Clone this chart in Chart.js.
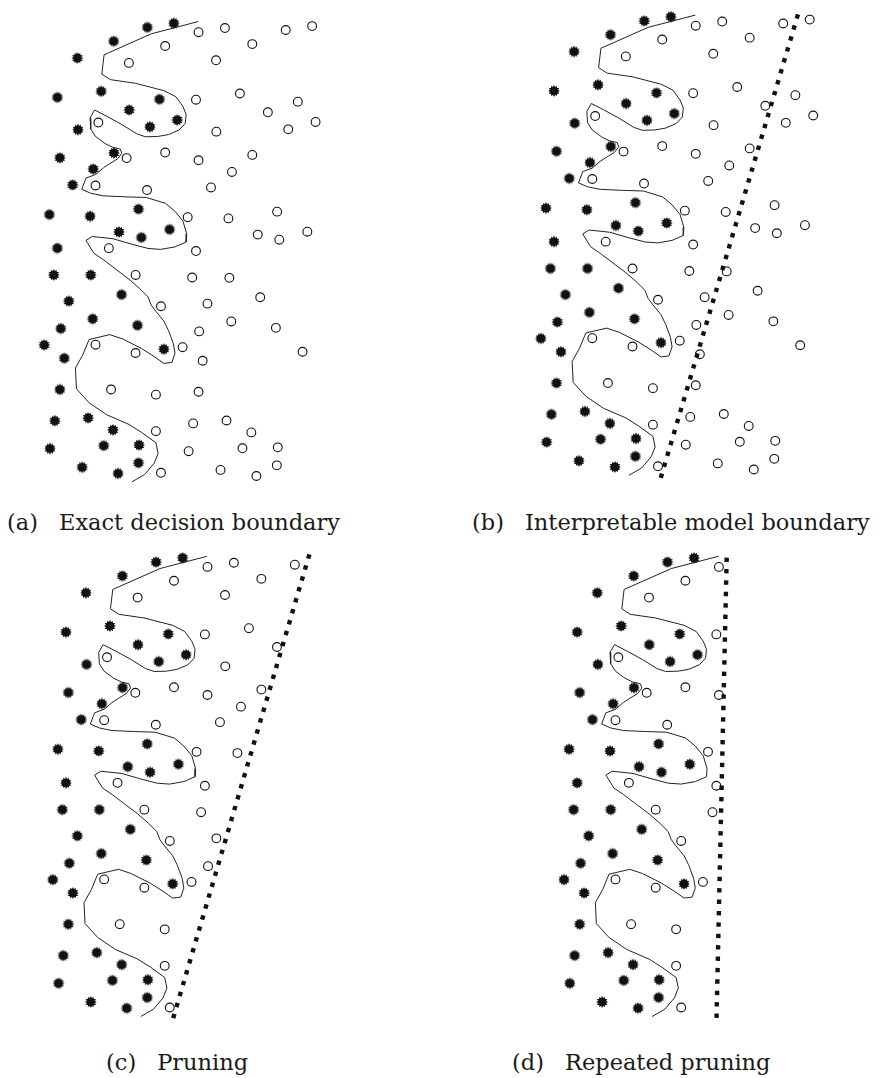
<!DOCTYPE html>
<html lang="en">
<head>
<meta charset="UTF-8">
<title>Decision boundary and pruning</title>
<script src="https://cdn.jsdelivr.net/npm/chart.js"></script>
<style>
  body { margin:0; background:#fff; width:880px; height:1078px; position:relative; overflow:hidden; }
  canvas { position:absolute; }
  .cap { position:absolute; font-family:"DejaVu Serif", serif; font-size:22.5px; line-height:26px; color:#1a1a1a; white-space:nowrap; }
  .cap span + span { margin-left:21px; }
</style>
</head>
<body>
<div class="cap" style="left:7px;top:509px"><span>(a)</span><span>Exact decision boundary</span></div>
<div class="cap" style="left:472px;top:509px"><span>(b)</span><span>Interpretable model boundary</span></div>
<div class="cap" style="left:106px;top:1049px"><span>(c)</span><span>Pruning</span></div>
<div class="cap" style="left:512px;top:1049px"><span>(d)</span><span>Repeated pruning</span></div>
<script>
// filled "star" points (class 1), in panel (a) coordinates
const stars = [
  [146,20],[173.7,15.7],[110.7,34.3],[72.7,51.7],[97.7,86],[51.7,92.3],[158.7,94.3],[127,105.3],
  [177.3,115.7],[148.7,122.7],[73.3,125.7],[111,149.7],[54.3,154.7],[89.3,166.3],[67.7,182.7],
  [43.3,213.3],[86,215],[136.7,207.7],[169.3,228.7],[116.3,231.3],[139.7,237],[51.7,248],
  [48,275.7],[86.7,275.7],[119,296],[63.7,302.7],[88.7,321],[135.7,327.7],[55.3,331],[38,348],
  [59,361.7],[163.3,352.3],[54.3,394],[49,426.3],[84,423.3],[110,435.7],[44,455],[100.3,452],
  [137.3,451.3],[136.7,469.7],[77.7,474.3],[115.3,480.7]
];

// open circles (class 0)
const circles = [
  [199.7,25],[227.3,20.7],[291,22.7],[318.7,18.7],[256,37.3],[164.7,39.3],[126.7,56.7],[218,54],
  [197,94.7],[243,88.3],[303.7,96.7],[272.3,107.7],[322.3,117.7],[293.7,125.3],[94.7,118.3],[218.3,127.7],
  [164.7,149.3],[124.3,155],[199.7,157.3],[256,151.7],[234.7,169.3],[91.7,183.3],[145.7,188],[212.7,185.3],
  [188.3,216],[231,217.3],[282,210.3],[261.7,234],[284.3,239.3],[313.7,231],[105.7,248],[197,251],
  [133.7,275.7],[193,278.3],[232,278.7],[160.3,308],[209,305.3],[264.3,298.7],[234,323.7],[280.7,330.3],
  [200.3,334],[91.7,347.7],[133.7,356.3],[183,350.3],[204,364.3],[308.7,355],[108,394],[155,399.3],
  [199.7,396.3],[194,429],[229,426],[255,438.3],[155,437],[189.3,457.7],[245.7,454.7],[282.7,453.7],
  [281.7,472.3],[222.7,477],[260.3,483.3],[160.3,480]
];
// how long each circle survives: 0 = (a),(b) only, 1 = also (c), 2 = also (d)
const circleStage = [
  2,1,1,0,1,2,2,1, 2,1,0,1,0,0,2,1, 2,2,2,1,1,2,2,1, 2,1,0,0,0,0,2,2,
  2,2,0,2,1,0,0,0, 1,2,2,2,0,0,2,2, 0,0,0,0,2,0,0,0, 0,0,0,2
];

// exact decision boundary
const boundary = [
  [199.3,14],[150,26.7],[100.7,48.3],[98.3,68.3],[107.3,74],[133.3,77.7],[163.3,85.3],[176,91.7],
  [183.3,101.7],[186.7,110],[185.7,119.3],[179.3,126],[168.3,130.7],[156.7,132.7],[144,133],[135,130],
  [120,120.7],[103.3,111.7],[90.7,105.3],[86,113.3],[86.7,125],[91.7,132.7],[101.7,140],[110,144],
  [117.7,145.7],[119.3,150],[115,155.7],[106.7,160.7],[100,165],[91.7,172],[81.7,175.7],[77.3,187.3],
  [86.7,191.3],[100,194],[123.3,195],[145,195.7],[165,201.7],[175,210],[183.3,220],[187.3,233.3],
  [186.7,241.7],[175,246.7],[160,249.3],[146.7,248.3],[130,244],[110,238.3],[88.3,236],[81.7,240],
  [90,253.3],[100,260],[113.3,270],[126.7,280],[138.3,290],[146.7,298.3],[150,306.7],[155,313.3],
  [163.3,323.3],[168.3,333.3],[173.3,346.7],[175,356.7],[171.7,366],[163.3,367],[153.3,360],[140,351.7],
  [120,341.7],[106.7,337.3],[85,342.3],[78.3,358.3],[70.7,371.7],[71.7,393.3],[85,407.7],[103.3,420],
  [126.7,430],[140,438.3],[155,449],[157.3,460],[153.3,470],[143.3,481.7],[130,489.3]
];

// straight boundaries of the interpretable model
const lineB = [[306.4,13.4],[163,492.4]];
const lineC = [[306.2,12.1],[163.5,492.1]];
const lineD = [[207.8,15.4],[197.2,491.1]];

const panels = [
  { left:0,   top:0,   w:350, h:505, dx:0,     dy:0,     stage:0, cut:null },
  { left:500, top:0,   w:380, h:505, dx:496.3, dy:-6.7,  stage:0, cut:lineB },
  { left:0,   top:538, w:370, h:505, dx:8.8,   dy:534.6, stage:1, cut:lineC },
  { left:500, top:538, w:380, h:505, dx:520.5, dy:534.6, stage:2, cut:lineD }
];

// little filled sun-star used for the dark points
function makeStar() {
  const c = document.createElement('canvas');
  c.width = 14; c.height = 14;
  const g = c.getContext('2d');
  const n = 12, ro = 5.9, ri = 4.2;
  g.beginPath();
  for (let i = 0; i < n * 2; i++) {
    const r = i % 2 ? ri : ro;
    const a = Math.PI * i / n;
    g.lineTo(7 + r * Math.cos(a), 7 + r * Math.sin(a));
  }
  g.closePath();
  g.fillStyle = '#111';
  g.fill();
  return c;
}
const starImg = makeStar();
const pts = arr => arr.map(p => ({ x: p[0], y: p[1] }));

panels.forEach(p => {
  const cv = document.createElement('canvas');
  cv.width = p.w; cv.height = p.h;
  cv.style.left = p.left + 'px';
  cv.style.top = p.top + 'px';
  document.body.appendChild(cv);

  const datasets = [
    {
      data: pts(circles.filter((c, i) => circleStage[i] >= p.stage)),
      pointStyle: 'circle', pointRadius: 4.4, borderWidth: 1.1,
      borderColor: '#111', backgroundColor: 'rgba(255,255,255,0)', order: 0
    },
    {
      data: pts(stars),
      pointStyle: starImg, pointRadius: 7, order: 0
    },
    {
      data: pts(boundary), showLine: true, pointRadius: 0,
      borderColor: '#222', borderWidth: 1, tension: 0, order: 2
    }
  ];
  if (p.cut) {
    datasets.push({
      data: pts(p.cut), showLine: true, pointRadius: 0,
      borderColor: '#111', borderWidth: 4.4, borderDash: [4.4, 7],
      borderCapStyle: 'butt', order: 1
    });
  }

  new Chart(cv.getContext('2d'), {
    type: 'scatter',
    data: { datasets },
    options: {
      responsive: false,
      animation: false,
      layout: { padding: 0 },
      plugins: { legend: { display: false }, tooltip: { enabled: false } },
      scales: {
        x: { type: 'linear', display: false, min: p.left - p.dx, max: p.left + p.w - p.dx },
        y: { type: 'linear', display: false, reverse: true, min: p.top - p.dy, max: p.top + p.h - p.dy }
      }
    }
  });
});
</script>
</body>
</html>
